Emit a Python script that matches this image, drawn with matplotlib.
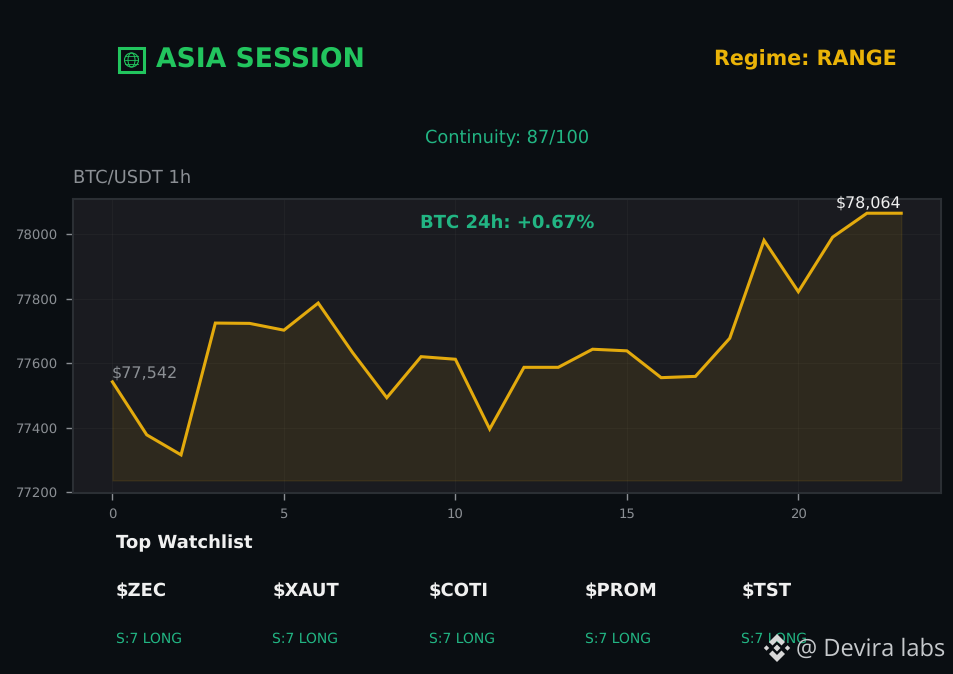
import numpy as np
import matplotlib
matplotlib.use("Agg")
import matplotlib.pyplot as plt
from matplotlib.patches import Ellipse, Polygon, Rectangle

plt.rcParams["text.hinting"] = "no_hinting"
plt.rcParams["text.hinting_factor"] = 8

hours = list(range(24))
prices = [77542, 77378, 77316, 77724, 77723, 77702, 77786, 77633, 77493, 77620,
          77612, 77396, 77587, 77587, 77643, 77638, 77555, 77559, 77677, 77980,
          77821, 77990, 78064, 78064]
watchlist = ["$ZEC", "$XAUT", "$COTI", "$PROM", "$TST"]
signals = ["S:7 LONG"] * 5
xticks = [0, 5, 10, 15, 20]
yticks = [77200, 77400, 77600, 77800, 78000]

BG = "#0a0e12"
PANEL = "#1a1b20"
GOLD = "#e3aa0d"
GREEN = "#22c55e"
TEAL = "#22b583"
GREY = "#8b8f94"
W, H = 954, 674

fig = plt.figure(figsize=(W / 100, H / 100), dpi=100, facecolor=BG)

def px_text(x, y, s, **kw):
    # position in reference pixels, y from the top
    kw.setdefault("va", "center")
    return fig.text(x / W, 1 - y / H, s, **kw)

def add_shape(patch):
    fig.add_artist(patch)

ax = fig.add_axes([73 / W, 1 - 493 / H, (941 - 73) / W, (493 - 199) / H])
ax.set_facecolor(PANEL)
ax.plot(hours, prices, color=GOLD, lw=2.2, zorder=3, solid_joinstyle="miter")
ax.fill_between(hours, prices, 77237, color=GOLD, alpha=0.10, zorder=2)
ax.set_xlim(-1.15, 24.16)
ax.set_ylim(77198, 78108)
ax.set_xticks(xticks)
ax.set_yticks(yticks)
ax.grid(True, color="#ffffff", alpha=0.03, lw=0.8)
ax.tick_params(colors=GREY, labelsize=9.5, length=5, width=1, pad=6)
for s in ax.spines.values():
    s.set_color("#2b2f34")
    s.set_linewidth(1.5)

ax.text(-0.03, 77544, "$77,542", color=GREY, fontsize=11.5, va="bottom", ha="left")
ax.text(23, 78071, "$78,064", color="#f0f0f0", fontsize=11.4, va="bottom", ha="right")
ax.text(0.5, 0.92, "BTC 24h: +0.67%", transform=ax.transAxes, color=TEAL,
        fontsize=13, fontweight="bold", ha="center", va="center")

# header
px_text(156, 59, "ASIA SESSION", color=GREEN, fontsize=19.2, fontweight="bold")
px_text(897, 60, "Regime: RANGE", color="#eab308", fontsize=14.9, fontweight="bold", ha="right")
px_text(507, 138, "Continuity: 87/100", color=TEAL, fontsize=12.8, ha="center")
px_text(73, 178.5, "BTC/USDT 1h", color=GREY, fontsize=12.9)

# globe icon
def fx(x):
    return x / W

def fy(y):
    return 1 - y / H

add_shape(Rectangle((fx(119.5), fy(72)), 24.5 / W, 24 / H, transform=fig.transFigure,
                    fc="none", ec=GREEN, lw=2.2))
add_shape(Ellipse((fx(131.5), fy(60)), 14 / W, 14 / H, transform=fig.transFigure,
                  fc="none", ec=GREEN, lw=0.8))
add_shape(Ellipse((fx(131.5), fy(60)), 7 / W, 14 / H, transform=fig.transFigure,
                  fc="none", ec=GREEN, lw=0.7))
for yy in (56, 60, 64):
    fig.add_artist(plt.Line2D([fx(125), fx(138)], [fy(yy), fy(yy)], color=GREEN, lw=0.6))

# watchlist
px_text(116, 543.5, "Top Watchlist", color="#f0f0f0", fontsize=13, fontweight="bold")
for i, (sym, sig) in enumerate(zip(watchlist, signals)):
    x = 116 + i * 156.3
    px_text(x, 591.5, sym, color="#f0f0f0", fontsize=13, fontweight="bold")
    px_text(x, 639, sig, color=TEAL, fontsize=10)

# watermark
px_text(796, 650, "@ Devira labs", color="#c6c9cc", fontsize=17, family="Open Sans", zorder=10)
mark = "#d8d8d8"
cx, cy = 777, 648

def diamond(x, y, r):
    add_shape(Polygon([(fx(x - r), fy(y)), (fx(x), fy(y - r)), (fx(x + r), fy(y)), (fx(x), fy(y + r))],
                      transform=fig.transFigure, fc=mark, ec="none", zorder=10))

def chevron(s):
    pts = [(cx - 8, cy + s * 6), (cx, cy + s * 14), (cx + 8, cy + s * 6),
           (cx + 4.5, cy + s * 2.5), (cx, cy + s * 7), (cx - 4.5, cy + s * 2.5)]
    add_shape(Polygon([(fx(a), fy(b)) for a, b in pts], transform=fig.transFigure,
                      fc=mark, ec="none", zorder=10))

diamond(cx, cy, 3.5)
diamond(cx - 10.5, cy, 2.7)
diamond(cx + 10.5, cy, 2.7)
chevron(-1)
chevron(1)

fig.savefig("out.png", dpi=100, facecolor=BG)
